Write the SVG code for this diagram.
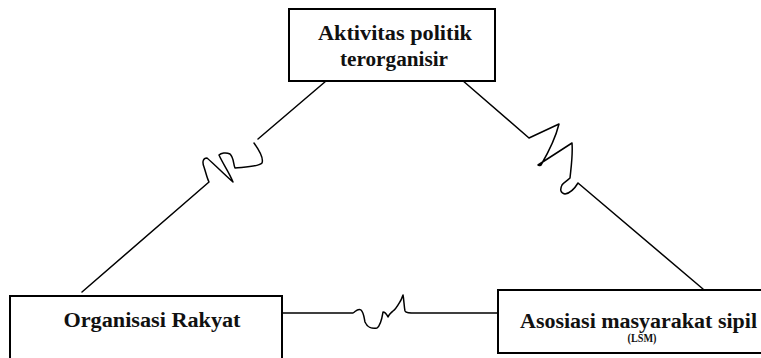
<svg xmlns="http://www.w3.org/2000/svg" width="761" height="358" viewBox="0 0 761 358">
<style>
.box{fill:#fff;stroke:#000;stroke-width:2}
.t{font-family:'Liberation Serif','DejaVu Serif',serif;font-weight:700;fill:#111;text-anchor:middle}
.ln{fill:none;stroke:#000;stroke-width:1.5;stroke-linejoin:round;stroke-linecap:round}
</style>
<rect width="761" height="358" fill="#fff"/>
<g id="connectors">
<path class="ln" d="M326,81 L258,139 M254,143 C259,150 264,158 262,163 C258,167 245,167 235,168 C233,163 234,158 230,154 C226,152 221,153 219,155 C223,164 229,172 233,182 C226,176 214,164 207,158 C203,158 202,162 204,167 C206,173 207,178 209,182 L82,292"/>
<path class="ln" d="M462,80 L529,138 L559,124 C555,140 548,153 541,165 C539,166 538,165 538,165 L572,143 C573,155 571,168 570,178 C567,181 564,182 562,185 C560,189 560,193 565,194 C571,193 575,188 578,183 L703,289"/>
<path class="ln" d="M282,313 L353,313 C356,311 358,308 361,310 C364,313 364,318 365,322 C367,327 372,329 377,328 C381,325 382,318 383,312 C385,312 387,315 388,317 C389,314 391,313 393,311 C396,309 398,305 401,300 L403,295 C404,300 404,306 405,311 C406,313 409,313 416,313 L418,313 L498,313"/>
</g>
<g id="node-top">
<rect class="box" x="289" y="9" width="206" height="72"/>
<text class="t" x="395" y="40" font-size="20" textLength="154" lengthAdjust="spacingAndGlyphs">Aktivitas politik</text>
<text class="t" x="394" y="66" font-size="20" textLength="108" lengthAdjust="spacingAndGlyphs">terorganisir</text>
</g>
<g id="node-left">
<rect class="box" x="10" y="296" width="272" height="70"/>
<text class="t" x="152" y="327" font-size="20" textLength="177" lengthAdjust="spacingAndGlyphs">Organisasi Rakyat</text>
</g>
<g id="node-right">
<rect class="box" x="498" y="290" width="266" height="63"/>
<text class="t" x="638.5" y="328" font-size="20" textLength="237" lengthAdjust="spacingAndGlyphs">Asosiasi masyarakat sipil</text>
<text class="t" x="642" y="342" font-size="12" textLength="29" lengthAdjust="spacingAndGlyphs">(LSM)</text>
</g>
</svg>
